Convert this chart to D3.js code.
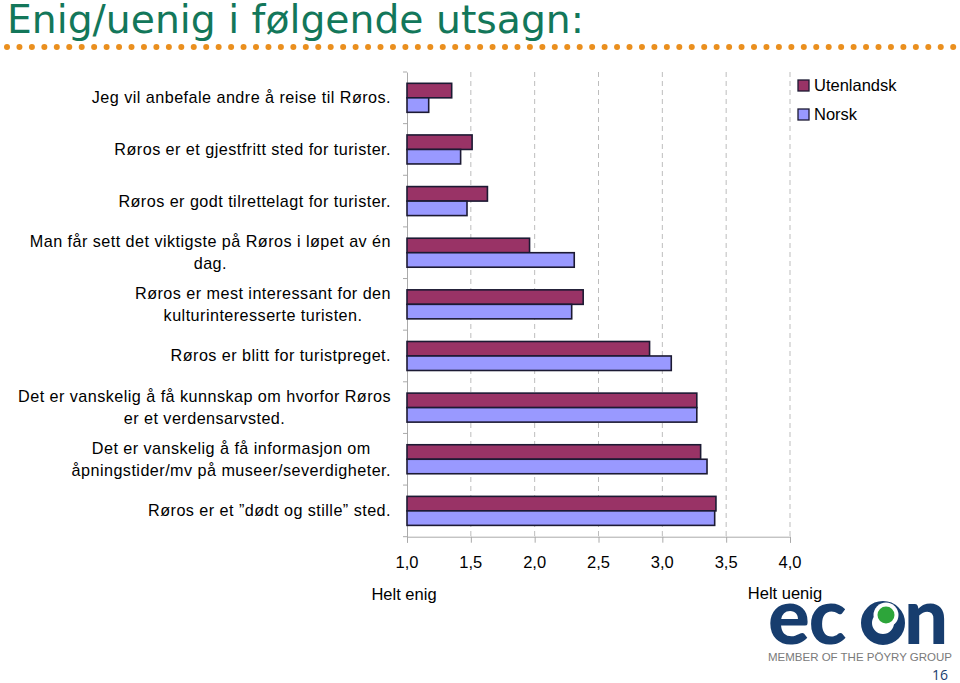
<!DOCTYPE html>
<html><head><meta charset="utf-8">
<script src="https://cdn.jsdelivr.net/npm/d3@7"></script>
<style>body{margin:0;background:#fff}svg{display:block}</style>
</head><body>
<svg id="c" width="960" height="683"></svg>
<script>
const categories = [
  "Jeg vil anbefale andre å reise til Røros.",
  "Røros er et gjestfritt sted for turister.",
  "Røros er godt tilrettelagt for turister.",
  "Man får sett det viktigste på Røros i løpet av én\ndag.",
  "Røros er mest interessant for den\nkulturinteresserte turisten.",
  "Røros er blitt for turistpreget.",
  "Det er vanskelig å få kunnskap om hvorfor Røros\ner et verdensarvsted.",
  "Det er vanskelig å få informasjon om\nåpningstider/mv på museer/severdigheter.",
  "Røros er et \u201ddødt og stille\u201d sted."
];
const seriesNames = ["Utenlandsk", "Norsk"];
const utenlandsk = [1.35, 1.51, 1.63, 1.96, 2.38, 2.90, 3.27, 3.30, 3.42];
const norsk      = [1.17, 1.42, 1.47, 2.31, 2.29, 3.07, 3.27, 3.35, 3.41];
const tickValues = [1.0, 1.5, 2.0, 2.5, 3.0, 3.5, 4.0];
const colors = ["#993366", "#9999FF"];

const svg = d3.select("#c");
const sans = "'Liberation Sans', Arial, sans-serif";

// Title
svg.append("text").attr("x", 7).attr("y", 33)
  .attr("font-family", "'DejaVu Sans', Verdana, sans-serif")
  .attr("font-size", 39.3).attr("fill", "#13775A")
  .text("Enig/uenig i følgende utsagn:");
// dotted line
const dots = d3.range(0, 77);
svg.append("g").selectAll("circle").data(dots).join("circle")
  .attr("cx", d => 7 + d * 12.45).attr("cy", 47).attr("r", 3)
  .attr("fill", "#EA8F1E");

const x = d3.scaleLinear().domain([1, 4]).range([407, 790]);
const y = d3.scaleBand().domain(categories).range([72, 536.7]);
const inner = d3.scaleBand().domain(seriesNames).range([0, 29]);

// gridlines
svg.append("g").selectAll("line").data(tickValues.slice(1)).join("line")
  .attr("x1", d => x(d)).attr("x2", d => x(d))
  .attr("y1", 72).attr("y2", 536.7)
  .attr("stroke", "#bdbdbd").attr("stroke-width", 1).attr("stroke-dasharray", "5,4");

// axes
const xAxis = svg.append("g").attr("transform", "translate(0,536.7)")
  .call(d3.axisBottom(x).tickValues(tickValues).tickSize(6).tickFormat(""));
xAxis.select(".domain").attr("stroke", "#aaa");
xAxis.selectAll(".tick line").attr("stroke", "#aaa");
const yAxis = svg.append("g").attr("transform", "translate(407,0)")
  .call(d3.axisLeft(y).tickSize(0).tickFormat(""));
yAxis.select(".domain").attr("stroke", "#aaa");
const yTicks = categories.map(c => y(c)).concat([536.7]);
svg.append("g").selectAll("line").data(yTicks).join("line")
  .attr("x1", 403).attr("x2", 407).attr("y1", d => d).attr("y2", d => d)
  .attr("stroke", "#aaa");

// tick labels
svg.append("g").selectAll("text").data(tickValues).join("text")
  .attr("x", d => x(d)).attr("y", 568).attr("text-anchor", "middle")
  .attr("font-family", sans).attr("font-size", 16.5).attr("fill", "#000")
  .text(d => d3.format(".1f")(d).replace(".", ","));

svg.append("text").attr("x", 404).attr("y", 600).attr("text-anchor", "middle")
  .attr("font-family", sans).attr("font-size", 16.5).text("Helt enig");
svg.append("text").attr("x", 785).attr("y", 599).attr("text-anchor", "middle")
  .attr("font-family", sans).attr("font-size", 16.5).text("Helt uenig");

// bars
const series = [utenlandsk, norsk];
series.forEach((vals, si) => {
  svg.append("g").selectAll("rect").data(vals).join("rect")
    .attr("x", x(1))
    .attr("y", (d, i) => y(categories[i]) + y.bandwidth() / 2 - 14.5 + inner(seriesNames[si]))
    .attr("width", d => x(d) - x(1))
    .attr("height", inner.bandwidth())
    .attr("fill", colors[si]).attr("stroke", "#1c1a33").attr("stroke-width", 1.6);
});

// category labels
categories.forEach(c => {
  const lines = c.split("\n");
  const cy = y(c) + y.bandwidth() / 2;
  const lh = 22;
  const t = svg.append("text").attr("text-anchor", "middle")
    .attr("font-family", sans).attr("font-size", 16.2).attr("letter-spacing", 0.45).attr("fill", "#000");
  let maxW = 0;
  const spans = lines.map((l, k) => {
    const s = t.append("tspan").attr("x", 0)
      .attr("y", cy + (k - (lines.length - 1) / 2) * lh + 5.5).text(l);
    maxW = Math.max(maxW, s.node().getComputedTextLength());
    return s;
  });
  spans.forEach(s => s.attr("x", 391 - maxW / 2));
});

// legend
seriesNames.forEach((s, i) => {
  svg.append("rect").attr("x", 798).attr("y", 80 + i * 29).attr("width", 11).attr("height", 11)
    .attr("fill", colors[i]).attr("stroke", "#1c1a33").attr("stroke-width", 1.3);
  svg.append("text").attr("x", 814).attr("y", 91 + i * 29)
    .attr("font-family", sans).attr("font-size", 16.5).text(s);
});

// logo
const logo = svg.append("g");
const blue = "#173D6E";
logo.append("text").attr("x", 768).attr("y", 644)
  .attr("font-family", "Lato, 'DejaVu Sans', sans-serif").attr("font-weight", 900)
  .attr("font-size", 78).attr("fill", blue).attr("letter-spacing", -1).text("ec");
logo.append("circle").attr("cx", 883).attr("cy", 623).attr("r", 16.5)
  .attr("fill", "none").attr("stroke", blue).attr("stroke-width", 11);
logo.append("circle").attr("cx", 886).attr("cy", 615).attr("r", 12.5).attr("fill", "#fff");
logo.append("circle").attr("cx", 886).attr("cy", 615).attr("r", 8.5).attr("fill", "#2DA53A");
logo.append("text").attr("x", 904).attr("y", 644)
  .attr("font-family", "Lato, 'DejaVu Sans', sans-serif").attr("font-weight", 900)
  .attr("font-size", 78).attr("fill", blue).text("n");
logo.append("text").attr("x", 860).attr("y", 661).attr("text-anchor", "middle")
  .attr("font-family", sans).attr("font-size", 11.5).attr("fill", "#7a7a7a")
  .text("MEMBER OF THE PÖYRY GROUP");
svg.append("text").attr("x", 940).attr("y", 680).attr("text-anchor", "middle")
  .attr("font-family", "'Open Sans', sans-serif").attr("font-size", 14).attr("fill", blue).text("16");
</script>
</body></html>
